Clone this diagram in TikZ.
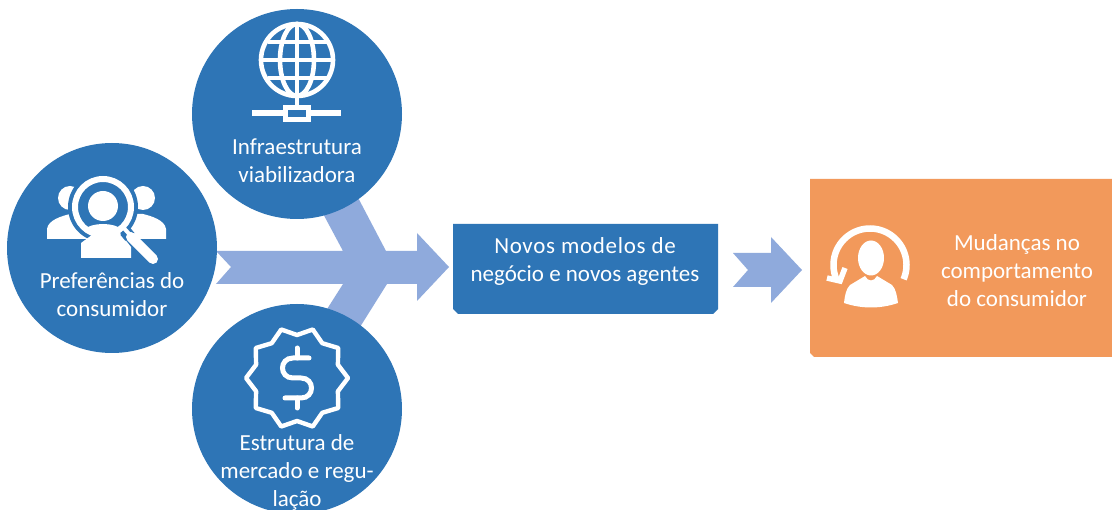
\documentclass[tikz,border=0pt]{standalone}
\usepackage{fontspec}
\setmainfont{Carlito}
\definecolor{bluefill}{HTML}{2E75B6}
\definecolor{arrowfill}{HTML}{8FAADC}
\definecolor{orangefill}{HTML}{F2995B}
\tikzset{
  disc/.style={circle,fill=bluefill,minimum size=210pt,inner sep=0pt},
  txt/.style={text=white,align=center,font=\fontsize{23}{28}\selectfont,inner sep=0pt},
  icon/.style={draw=white,line width=#1,fill=none},
  icon/.default=4pt,
  solidwhite/.style={fill=white,draw=none}
}
\begin{document}
\begin{tikzpicture}[x=1pt,y=-1pt]
\useasboundingbox (0,0) rectangle (1112,510);
\fill[white] (0,0) rectangle (1112,510);
% arrows
\fill[arrowfill] (216,251) -- (343,251) -- (320,208) -- (354,190) -- (386,251) -- (417,251) -- (417,233) -- (449,267) -- (417,301) -- (417,284) -- (387,284) -- (355,335) -- (322,317) -- (343,284) -- (216,284) -- (231,267) -- cycle;
\fill[arrowfill] (733,253) -- (771,253) -- (771,237) -- (802,270) -- (771,303) -- (771,287) -- (733,287) -- (748,270) -- cycle;
% discs
\node[disc] (infra) at (297,114) {};
\node[disc] (pref) at (112,248) {};
\node[disc] (estr) at (297,409) {};
% boxes
\fill[bluefill] (453,224) -- (718,224) -- (718,309) -- (713,314) -- (458,314) -- (453,309) -- cycle;
\fill[orangefill] (810,179) -- (1112,179) -- (1112,357) -- (814,357) -- (810,353) -- cycle;
\coordinate (novos) at (585,261.5);
\coordinate (muda) at (1017,271);
% globe
\begin{scope}[shift={(297,60)}]
  \draw[icon=4.6pt] (0,0) circle (36);
  \draw[icon=4.6pt] (0,0) ellipse (17 and 36);
  \draw[icon=4.6pt] (0,-36) -- (0,36);
  \draw[icon=4.6pt] (-36,0) -- (36,0);
  \draw[icon=4.6pt] (-29.5,-18) -- (29.5,-18);
  \draw[icon=4.6pt] (-29.5,18) -- (29.5,18);
  \draw[icon=4.6pt] (0,36) -- (0,46);
\end{scope}
\draw[icon=6pt] (252,113.5) -- (283,113.5);
\draw[icon=6pt] (311,113.5) -- (341,113.5);
\draw[icon=5pt] (285.5,107.5) rectangle (308.5,119.5);
% search people
\fill[solidwhite] (70,198) circle (12);
\fill[solidwhite] (143,198) circle (12);
\fill[solidwhite] (47,239) -- (47,229) .. controls (48,220) and (62,216) .. (70,214) -- (90,214) -- (90,239) -- cycle;
\fill[solidwhite] (166,239) -- (166,229) .. controls (165,220) and (151,216) .. (143,214) -- (120,214) -- (120,239) -- cycle;
\fill[bluefill] (103,207) circle (35);
\fill[solidwhite] (81,258) -- (81,243) -- (96,232) -- (110,231) -- (120,233) -- (131,247) -- (131,258) -- cycle;
\fill[bluefill] (103,207) circle (30);
\fill[solidwhite] (103,206) circle (15);
\fill[solidwhite] (83,230) .. controls (92,222) and (114,222) .. (123,230) .. controls (112,240) and (94,240) .. (83,230) -- cycle;
\draw[icon=6pt] (103,207) circle (28);
\draw[bluefill,line width=12pt] (125,231) -- (130,237);
\draw[white,line width=10pt,line cap=round] (131,237) -- (153,259);
\draw[white,line width=4pt] (122,226) -- (131,236);
% badge
\begin{scope}[shift={(297,378)}]
  \draw[icon=4.4pt,line join=round] (0:51) -- (18:43) -- (36:51) -- (54:43) -- (72:51) -- (90:43) -- (108:51) -- (126:43) -- (144:51) -- (162:43) -- (180:51) -- (198:43) -- (216:51) -- (234:43) -- (252:51) -- (270:43) -- (288:51) -- (306:43) -- (324:51) -- (342:43) -- cycle;
  \draw[icon=5pt,line cap=round] (12,-20) -- (-4,-20) .. controls (-18,-20) and (-18,0) .. (-4,0) -- (4,0) .. controls (18,0) and (18,20) .. (4,20) -- (-12,20);
  \draw[icon=5pt,line cap=round] (0,-30) -- (0,-20);
  \draw[icon=5pt,line cap=round] (0,20) -- (0,30);
\end{scope}
% person with arc
\draw[icon=6.5pt] plot[domain=-23:205,samples=70] ({870+36.5*cos(\x)},{265-36.5*sin(\x)});
\draw[icon=5.5pt,line join=miter] (827,278) -- (840,281) -- (845,268);
\fill[solidwhite] (871,258) ellipse (13 and 17.5);
\fill[solidwhite] (844,303) .. controls (845,295) and (846,289) .. (850,285) -- (865,276) .. controls (868,282) and (874,282) .. (877,276) -- (892,285) .. controls (896,289) and (897,296) .. (898,303) .. controls (880,309) and (862,309) .. (844,303) -- cycle;
% labels
\node[txt] (tinfra) at (297,160.5) {Infraestrutura\\viabilizadora};
\node[txt] (tpref) at (112,295) {Preferências do\\consumidor};
\node[txt] (testr) at (297,472) {Estrutura de\\mercado e regu-\\lação};
\node[txt] (tnovos) at (novos) {\addfontfeature{LetterSpace=3}Novos modelos de\\negócio e novos agentes};
\node[txt] (tmuda) at (muda) {Mudanças no\\comportamento\\do consumidor};
\end{tikzpicture}
\end{document}
